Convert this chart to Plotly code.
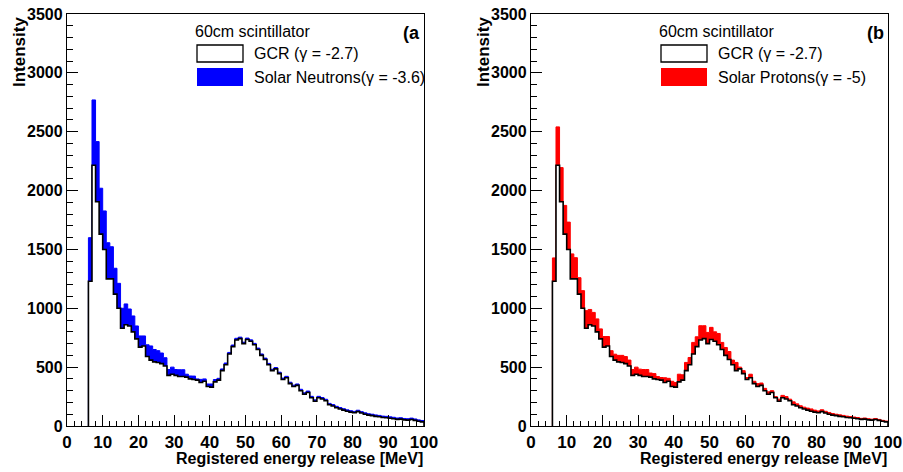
import plotly.graph_objects as go
from plotly.subplots import make_subplots

# Energy bins, 1 MeV wide (lower edges)
energy_lo = list(range(6, 100))

gcr = [1230, 2215, 1905, 1630, 1500, 1250, 1250, 1120, 1000, 830,
       860, 850, 800, 740, 670, 680, 590, 560, 545, 540,
       530, 510, 430, 440, 430, 420, 420, 415, 400, 395,
       390, 370, 380, 335, 330, 375, 390, 470, 520, 612,
       674, 731, 742, 700, 735, 720, 690, 650, 600, 565,
       520, 470, 485, 445, 395, 410, 360, 335, 345, 300,
       270, 285, 240, 210, 240, 230, 215, 180, 170, 155,
       145, 135, 125, 118, 112, 122, 110, 100, 92, 88,
       82, 78, 72, 70, 66, 62, 56, 58, 52, 50,
       55, 48, 40, 35]

solar_neutrons = [1600, 2770, 2416, 2020, 1827, 1557, 1523, 1340, 1212, 1000,
                  1037, 994, 935, 850, 765, 765, 690, 680, 650, 640,
                  620, 580, 480, 500, 480, 478, 478, 440, 425, 424,
                  400, 396, 400, 357, 357, 395, 405, 485, 535, 625,
                  688, 745, 755, 712, 747, 732, 702, 662, 612, 577,
                  532, 482, 497, 457, 407, 422, 372, 347, 357, 312,
                  282, 297, 252, 222, 252, 242, 227, 192, 182, 167,
                  157, 147, 137, 130, 124, 134, 122, 112, 104, 100,
                  94, 90, 84, 82, 78, 74, 68, 70, 64, 62,
                  67, 60, 52, 47]

solar_protons = [1428, 2541, 2195, 1874, 1732, 1462, 1430, 1260, 1150, 980,
                 990, 965, 910, 825, 760, 760, 640, 610, 600, 600,
                 590, 560, 480, 500, 483, 480, 480, 450, 445, 420,
                 412, 410, 405, 380, 369, 440, 435, 540, 582, 710,
                 758, 852, 852, 795, 838, 800, 786, 710, 667, 633,
                 560, 540, 500, 470, 412, 440, 380, 360, 365, 320,
                 290, 300, 250, 228, 260, 250, 228, 205, 188, 172,
                 160, 152, 145, 135, 128, 138, 125, 115, 106, 100,
                 95, 90, 84, 80, 76, 72, 65, 68, 62, 58,
                 64, 56, 48, 42]

y_ticks = [0, 500, 1000, 1500, 2000, 2500, 3000, 3500]
x_ticks = [0, 10, 20, 30, 40, 50, 60, 70, 80, 90, 100]

W, H = 903, 472
FONT = "Liberation Sans"


def px(x):
    return x / W


def py(y):
    return 1 - y / H


def step(vals):
    xs = [energy_lo[0]] + energy_lo + [100, 100]
    ys = [0] + list(vals) + [vals[-1], 0]
    return xs, ys


fig = make_subplots(rows=1, cols=2)

panels = [
    (1, solar_neutrons, "#0000ff", "Solar Neutrons(\u03b3 = -3.6)", "(a", 0),
    (2, solar_protons, "#ff0000", "Solar Protons(\u03b3 = -5)", "(b", 464),
]

for col, solar, color, label, tag, dx in panels:
    sx, sy = step(solar)
    fig.add_trace(go.Scatter(x=sx, y=sy, mode="lines", line_shape="hv",
                             line=dict(color=color, width=1), fill="tozeroy",
                             fillcolor=color, showlegend=False), row=1, col=col)
    gx, gy = step(gcr)
    fig.add_trace(go.Scatter(x=gx, y=gy, mode="lines", line_shape="hv",
                             line=dict(color="black", width=1.6), fill="tozeroy",
                             fillcolor="white", showlegend=False), row=1, col=col)

    # legend block
    fig.add_annotation(x=px(193 + dx), y=py(31), xref="paper", yref="paper",
                       text="60cm scintillator", showarrow=False, xanchor="left",
                       yanchor="middle", font=dict(family=FONT, size=16, color="black"))
    fig.add_shape(type="rect", xref="paper", yref="paper",
                  x0=px(197 + dx), x1=px(243 + dx), y0=py(62), y1=py(45),
                  line=dict(color="black", width=1.3), fillcolor="white")
    fig.add_shape(type="rect", xref="paper", yref="paper",
                  x0=px(197 + dx), x1=px(243 + dx), y0=py(86), y1=py(68),
                  line=dict(width=0), fillcolor=color)
    fig.add_annotation(x=px(252 + dx), y=py(53), xref="paper", yref="paper",
                       text="GCR (\u03b3 = -2.7)", showarrow=False, xanchor="left",
                       yanchor="middle", font=dict(family=FONT, size=16, color="black"))
    fig.add_annotation(x=px(252 + dx), y=py(77), xref="paper", yref="paper",
                       text=label, showarrow=False, xanchor="left",
                       yanchor="middle", font=dict(family=FONT, size=16, color="black"))
    fig.add_annotation(x=px(401 + dx), y=py(33), xref="paper", yref="paper",
                       text="<b>" + tag + "</b>", showarrow=False, xanchor="left",
                       yanchor="middle", font=dict(family=FONT, size=18, color="black"))

    # axis titles (ROOT style: at the axis ends)
    fig.add_annotation(x=px(19 + dx), y=py(15), xref="paper", yref="paper",
                       text="<b>Intensity</b>", textangle=-90, showarrow=False,
                       xanchor="center", yanchor="top",
                       font=dict(family=FONT, size=17, color="black"))
    fig.add_annotation(x=px(425 + dx), y=py(458), xref="paper", yref="paper",
                       text="<b>Registered energy release [MeV]</b>", showarrow=False,
                       xanchor="right", yanchor="middle",
                       font=dict(family=FONT, size=16, color="black"))

axis_common = dict(showline=True, linecolor="black", linewidth=1.3, mirror=True,
                   showgrid=False, zeroline=False, ticks="inside", tickcolor="black",
                   tickwidth=1.2, automargin=False, ticklabeloverflow="allow")

fig.update_xaxes(range=[0, 100], tickvals=x_ticks, ticklen=11,
                 minor=dict(ticks="inside", dtick=2, ticklen=5, tickcolor="black", tickwidth=1.2),
                 tickfont=dict(family=FONT, size=17, color="black", weight="bold"),
                 **axis_common)
fig.update_yaxes(range=[0, 3500], tickvals=y_ticks, ticklen=11,
                 minor=dict(ticks="inside", dtick=100, ticklen=6, tickcolor="black", tickwidth=1.2),
                 tickfont=dict(family=FONT, size=16, color="black", weight="bold"),
                 **axis_common)

fig.update_layout(
    width=W, height=H,
    margin=dict(l=0, r=0, t=0, b=0),
    paper_bgcolor="white", plot_bgcolor="white",
    xaxis=dict(domain=[px(67), px(424)]),
    xaxis2=dict(domain=[px(531), px(888)]),
    yaxis=dict(domain=[py(426), py(14)]),
    yaxis2=dict(domain=[py(426), py(14)]),
    showlegend=False,
)

# drop the page's default body margin so the 903x472 figure fills the window
fig.write_html("out.html", config={"displayModeBar": False},
               post_script="document.body.style.margin='0';document.body.style.overflow='hidden';")
